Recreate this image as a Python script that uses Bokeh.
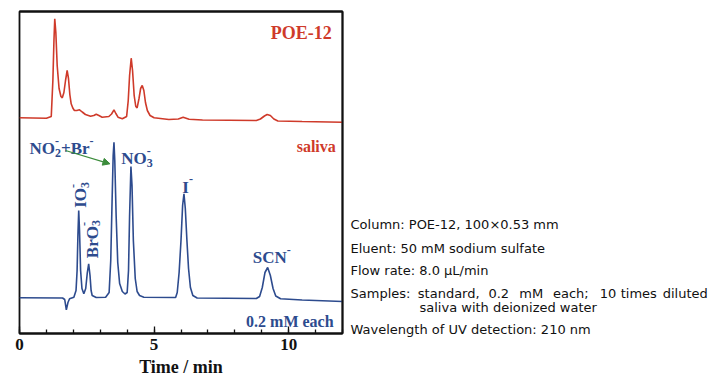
import math
from bokeh.plotting import figure
from bokeh.models import (Label, Arrow, NormalHead, SingleIntervalTicker, FixedTicker,
                          Range1d, LinearAxis)
from bokeh.layouts import row
from bokeh.embed import file_html
from bokeh.resources import INLINE

# ---- data (time in min, signal in arbitrary units, traces shown offset) ----
saliva_t = [0, 1.0, 1.18, 1.24, 1.28, 1.31, 1.35, 1.40, 1.47, 1.54, 1.59, 1.65, 1.71, 1.77,
            1.82, 1.87, 1.92, 1.98, 2.04, 2.13, 2.23, 2.33, 2.45, 2.64, 2.76, 2.85, 2.95,
            3.07, 3.32, 3.42, 3.51, 3.58, 3.66, 3.82, 3.98, 4.04, 4.09, 4.15, 4.20, 4.26,
            4.32, 4.37, 4.44, 4.50, 4.56, 4.62, 4.68, 4.75, 4.85, 5.0, 5.55, 5.9, 6.08,
            6.3, 6.8, 8.8, 8.95, 9.1, 9.2, 9.32, 9.45, 9.6, 10.5, 12.0]
saliva_y = [215.7, 215.2, 217.0, 253.0, 293.0, 314.7, 301.0, 268.0, 245.0, 237.0, 235.7,
            241.0, 253.0, 263.0, 255.0, 239.0, 229.7, 225.5, 223.0, 223.0, 223.7, 221.5,
            219.0, 217.3, 218.0, 219.3, 218.0, 216.3, 217.0, 219.5, 223.7, 220.0, 216.3,
            214.7, 217.0, 233.0, 258.0, 275.3, 263.0, 238.0, 227.0, 225.7, 235.0, 245.0,
            248.0, 243.0, 231.0, 223.0, 218.0, 215.7, 214.0, 214.5, 216.3, 214.2, 213.5,
            213.0, 214.5, 217.5, 219.0, 218.0, 214.5, 212.5, 212.0, 211.3]

std_t = [0, 1.6, 1.68, 1.74, 1.8, 1.86, 2.02, 2.1, 2.14, 2.17, 2.2, 2.23, 2.27, 2.32, 2.39,
         2.46, 2.52, 2.57, 2.62, 2.66, 2.7, 2.85, 3.2, 3.33, 3.39, 3.44, 3.48, 3.51, 3.54,
         3.59, 3.65, 3.72, 3.82, 3.92, 4.0, 4.05, 4.09, 4.14, 4.18, 4.23, 4.3, 4.37, 4.46,
         4.62, 5.8, 5.86, 5.93, 6.0, 6.06, 6.11, 6.16, 6.22, 6.28, 6.35, 6.44, 6.6, 8.8,
         8.92, 9.02, 9.12, 9.22, 9.32, 9.42, 9.52, 9.7, 10.5, 12.0]
std_y = [35.7, 35.5, 34.0, 23.7, 31.0, 34.7, 36.3, 43.0, 63.0, 98.0, 123.0, 103.0, 63.0,
         45.0, 39.7, 45.0, 61.0, 69.7, 58.0, 43.0, 38.0, 36.0, 36.3, 41.0, 73.0, 133.0,
         178.0, 191.3, 173.0, 118.0, 71.0, 50.0, 42.0, 39.5, 41.0, 63.0, 118.0, 167.0,
         148.0, 93.0, 55.0, 42.0, 38.0, 36.3, 36.0, 41.0, 61.0, 93.0, 128.0, 139.7, 125.0,
         93.0, 65.0, 46.0, 38.0, 35.5, 35.0, 37.0, 46.0, 61.0, 66.0, 58.0, 45.0, 37.5,
         34.7, 33.5, 32.0]

x_ticks_interval = 5

RED = "#cf3a2a"
BLUE = "#2d4b8e"
GREEN = "#3c8c3c"
INK = "#111111"
SERIF = "Liberation Serif"
SANS = "DejaVu Sans"

p = figure(width=346, height=380, min_border_left=19, min_border_top=11,
           min_border_right=4, min_border_bottom=47,
           x_range=Range1d(0, 12), y_range=Range1d(0, 322),
           y_axis_location=None, output_backend="svg", toolbar_location=None,
           background_fill_color="white", border_fill_color="white")
p.frame_align = False

p.xgrid.visible = False
p.ygrid.visible = False
p.outline_line_color = INK
p.outline_line_width = 1.8

ax = p.xaxis[0]
ax.ticker = SingleIntervalTicker(interval=x_ticks_interval, num_minor_ticks=5)
ax.axis_line_color = INK
ax.axis_line_width = 1.8
ax.major_tick_in = 7
ax.major_tick_out = 0
ax.minor_tick_in = 4
ax.minor_tick_out = 0
ax.major_tick_line_color = INK
ax.minor_tick_line_color = INK
ax.major_tick_line_width = 1.3
ax.minor_tick_line_width = 1.3
ax.major_label_text_font = SERIF
ax.major_label_text_font_style = "bold"
ax.major_label_text_font_size = "17px"
ax.major_label_text_color = INK
ax.major_label_standoff = 5
ax.axis_label = "Time / min"
ax.axis_label_text_font = SERIF
ax.axis_label_text_font_style = "bold"
ax.axis_label_text_font_size = "18px"
ax.axis_label_text_color = INK
ax.axis_label_standoff = 4

for loc in ("above", "right"):
    frame_axis = LinearAxis(ticker=FixedTicker(ticks=[]), axis_line_color=INK,
                            axis_line_width=1.8, major_tick_in=0, major_tick_out=0,
                            minor_tick_in=0, minor_tick_out=0)
    p.add_layout(frame_axis, loc)

p.line(saliva_t, saliva_y, line_color=RED, line_width=1.6)
p.line(std_t, std_y, line_color=BLUE, line_width=1.6)

# Times-Bold advance widths (em) for composing sub/superscripts
W = {"N": .722, "O": .778, "B": .667, "r": .444, "I": .389, "S": .556, "C": .722,
     "+": .570, "2": .5, "3": .5, "-": .333}


def tw(s, size):
    return sum(W.get(c, .5) for c in s) * size


def lab(fig, x, y, text, color, size, align="left", angle=0.0, font=SERIF, bold=True,
        xo=0.0, yo=0.0):
    fig.add_layout(Label(x=x, y=y, text=text, text_color=color, text_font=font,
                         text_font_size=f"{size}px",
                         text_font_style="bold" if bold else "normal",
                         text_align=align, text_baseline="alphabetic", angle=angle,
                         x_offset=xo, y_offset=yo))


def rich(x, y, pieces, color, size=17, small=12, angle=0.0):
    """pieces: list of (text, kind) kind in n / sub / sup / subsup"""
    along = 0.0
    sub_dy = -0.24 * size
    sup_dy = 0.46 * size
    for text, kind in pieces:
        if kind == "n":
            parts = [(text, size, 0.0)]
            adv = tw(text, size)
        elif kind == "sub":
            parts = [(text, small, sub_dy)]
            adv = tw(text, small)
        elif kind == "sup":
            parts = [(text, small, sup_dy)]
            adv = tw(text, small)
        else:
            a, b = text
            parts = [(a, small, sub_dy), (b, small, sup_dy)]
            adv = max(tw(a, small), tw(b, small))
        for t, sz, perp in parts:
            if angle == 0.0:
                xo, yo = along, perp
            else:
                xo, yo = -perp, along
            lab(p, x, y, t, color, sz, angle=angle, xo=xo, yo=yo)
        along += adv


lab(p, 11.6, 300.7, "POE-12", RED, 18, align="right")
lab(p, 11.75, 187, "saliva", RED, 16, align="right")
rich(0.37, 184.7, [("NO", "n"), (("2", "-"), "subsup"), ("+Br", "n"), ("-", "sup")], BLUE)
rich(3.78, 174.7, [("NO", "n"), (("3", "-"), "subsup")], BLUE)
rich(6.05, 146.3, [("I", "n"), ("-", "sup")], BLUE)
rich(8.67, 75.7, [("SCN", "n"), ("-", "sup")], BLUE)
lab(p, 11.67, 12.3, "0.2 mM each", BLUE, 16, align="right")
rich(2.27, 125.7, [("IO", "n"), (("3", "-"), "subsup")], BLUE, angle=math.pi / 2)
rich(2.70, 75.3, [("BrO", "n"), (("3", "-"), "subsup")], BLUE, angle=math.pi / 2)

p.add_layout(Arrow(x_start=1.71, y_start=183, x_end=3.36, y_end=169.7,
                   line_color=GREEN, line_width=1.3,
                   end=NormalHead(size=7, fill_color=GREEN, line_color=GREEN)))

# ---- right-hand notes panel ----
q = figure(width=374, height=380, min_border_left=0, min_border_right=0,
           min_border_top=11, min_border_bottom=20, x_range=Range1d(0, 374),
           y_range=Range1d(-27, 322), x_axis_location=None, y_axis_location=None,
           output_backend="svg", toolbar_location=None, outline_line_color=None,
           background_fill_color="white", border_fill_color="white")
q.frame_align = False
q.xgrid.visible = False
q.ygrid.visible = False

notes = [("Column: POE-12, 100\u00d70.53 mm", 4, 108.7, "left"),
         ("Eluent: 50 mM sodium sulfate", 4, 85.3, "left"),
         ("Flow rate: 8.0 \u03bcL/min", 4, 63, "left"),
         ("Samples:", 4, 40.3, "left"),
         ("standard,", 102.2, 40.3, "center"),
         ("0.2", 152.3, 40.3, "center"),
         ("mM", 184.8, 40.3, "center"),
         ("each;", 224.3, 40.3, "center"),
         ("10", 261.5, 40.3, "center"),
         ("times", 292.3, 40.3, "center"),
         ("diluted", 338.7, 40.3, "center"),
         ("saliva with deionized water", 73, 26, "left"),
         ("Wavelength of UV detection: 210 nm", 4, 4.5, "left")]
for nt, nx, ny, na in notes:
    lab(q, nx, ny, nt, INK, 13, align=na, font=SANS, bold=False)

open("out.html", "w").write(file_html(row(p, q), INLINE))
